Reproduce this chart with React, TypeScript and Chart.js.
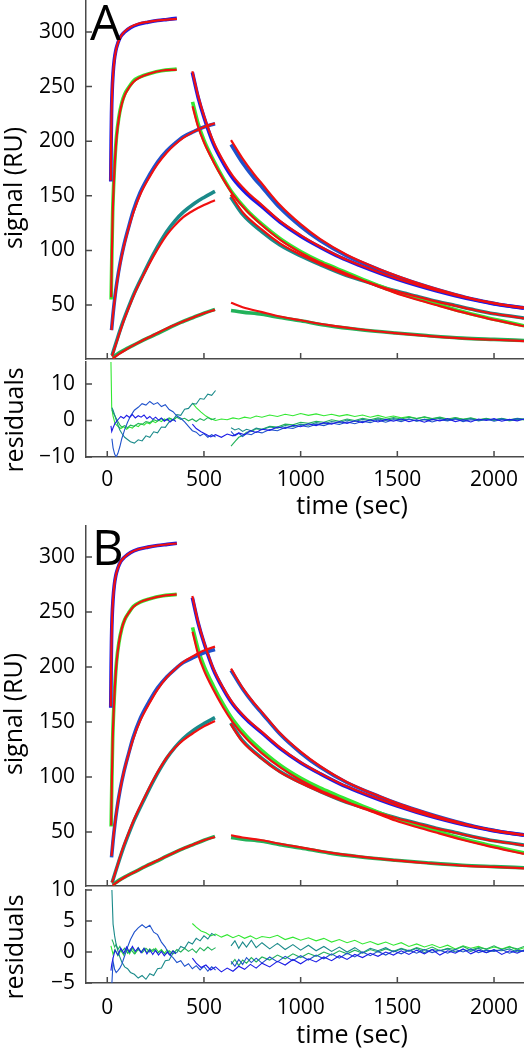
import React, { useEffect, useRef } from 'react';
import { Chart, registerables } from 'chart.js';
Chart.register(...registerables);

const FONT = '"Open Sans", "DejaVu Sans", sans-serif';
const AXIS = '#4a4a4a';
const RED = '#f01010';
const COL1 = '#1c1ce6';
const COL2 = '#33e833';
const COL3 = '#1f52cc';
const COL4 = '#1a8a8a';
const COL5 = '#22b25a';

const X_MIN = -110;
const X_MAX = 2155;
const X_TICKS = [0, 500, 1000, 1500, 2000];
const SIG_TICKS = [50, 100, 150, 200, 250, 300];
const A_RES_TICKS = [-10, 0, 10];
const B_RES_TICKS = [-5, 0, 5, 10];

// ---------- signal: association phase ----------
const C1_AS_T = [18, 20, 22, 25, 30, 36, 44, 55, 70, 90, 120, 160, 210, 260, 310, 360];
const C1_AS_DATA = [163, 200, 225, 245, 262, 274, 283, 290, 296, 300, 304, 307, 309, 310.5, 311.5, 312.5];
const C1_AS_FIT_A = [164, 201, 225, 244, 261, 273, 282.5, 290, 296, 300.5, 304.5, 307.5, 309.3, 310.6, 311.4, 312];
const C1_AS_FIT_B = [164, 200, 224, 245, 262, 274, 283, 290, 296, 300, 304, 307, 309, 310.5, 311.5, 312.3];

const C2_AS_T = [20, 24, 28, 33, 40, 48, 60, 75, 90, 110, 134, 170, 221, 280, 359];
const C2_AS_DATA = [55, 100, 135, 160, 185, 205, 222, 235, 243, 249, 255, 259, 262, 264.5, 266];
const C2_AS_FIT_A = [57, 99, 133, 158, 183, 203, 221, 234, 242, 248.5, 254, 258.5, 262, 264.5, 265.5];
const C2_AS_FIT_B = [56, 100, 134, 159, 184, 204, 222, 235, 243, 249, 254.5, 259, 262, 264.5, 266];

const C3_AS_T = [22, 30, 40, 50, 66, 85, 110, 134, 170, 221, 260, 307, 350, 393, 450, 500, 557];
const C3_AS_DATA = [27, 42, 58, 71, 88, 104, 121, 136, 153, 170, 181, 191, 198, 204, 209, 213, 216];
const C3_AS_FIT_A = [27, 42, 57, 70, 87, 103, 120, 134, 151, 168, 179, 189.5, 197, 203, 209, 213, 216.5];
const C3_AS_FIT_B = [28, 43, 58, 71, 88, 104, 120.5, 134.5, 151, 168, 179.5, 190.5, 198, 204.5, 210.5, 215, 218.5];

const C4_AS_T = [25, 50, 80, 110, 140, 186, 240, 307, 350, 393, 450, 500, 557];
const C4_AS_DATA = [4, 18, 34, 48, 61, 78, 97, 117, 127, 135, 143, 148.5, 154];
const C4_AS_FIT_A = [3, 17, 33, 47, 60, 77, 95, 114, 123, 130.5, 137, 141.5, 146];
const C4_AS_FIT_B = [4, 18, 35, 49, 62, 79, 98, 117.5, 126.5, 133.5, 140.5, 146, 151];

const C5_AS_T = [28, 60, 100, 134, 200, 250, 307, 380, 450, 500, 557];
const C5_AS_DATA = [2, 6, 10, 13, 19, 23, 28, 34, 39, 42.5, 46];
const C5_AS_FIT_A = [1, 5, 9.5, 13, 19, 23.5, 28.5, 34, 39, 42.5, 45.5];
const C5_AS_FIT_B = [1.5, 5.5, 10, 13, 19, 23.5, 28, 34, 39, 42.5, 45.5];

// ---------- signal: dissociation phase ----------
const C1_DI_T = [440, 470, 500, 548, 600, 650, 721, 800, 893, 1000, 1100, 1200, 1300, 1411, 1500, 1600, 1700, 1800, 1900, 2000, 2100, 2155];
const C1_DI_DATA = [263, 240, 222, 198, 180, 166, 152, 140, 126, 113, 103, 94, 86.5, 79, 73.5, 68, 63, 58.5, 54.5, 51, 48.5, 47];
const C1_DI_FIT_A = [264, 241.5, 223.5, 200, 182, 168, 154, 141.5, 127, 114, 103.5, 94.5, 87, 79.5, 74, 68.5, 63.5, 59, 55, 51.5, 48.7, 47.3];
const C1_DI_FIT_B = [264.5, 241, 223, 199, 181, 167, 153, 141, 127, 113.5, 103.5, 94.5, 87, 79.5, 74, 68.3, 63.3, 58.8, 54.8, 51.3, 48.7, 47.2];

const C2_DI_T = [441, 470, 500, 548, 600, 650, 721, 800, 900, 1000, 1100, 1180, 1300, 1400, 1490, 1600, 1700, 1835, 1950, 2050, 2155];
const C2_DI_DATA = [236, 216, 201, 183, 166, 152, 137, 124, 110, 99, 90, 84, 75, 68, 62, 56, 51, 44, 39, 35, 31];
const C2_DI_FIT_A = [232, 213, 199, 181.5, 165, 151, 136, 123, 109, 98, 89, 83, 74, 67, 61, 55, 50, 43.5, 38.5, 34.5, 30.5];
const C2_DI_FIT_B = [232, 211.5, 197, 179.5, 163, 149.5, 134.5, 121.5, 108, 97, 88, 82, 73, 66.5, 60.5, 54.5, 49.5, 43, 38, 34, 30];

const C3_DI_T = [640, 700, 760, 800, 893, 1000, 1100, 1238, 1411, 1500, 1600, 1700, 1800, 1900, 2000, 2100, 2155];
const C3_DI_DATA = [197, 180, 166, 158, 139, 122, 109, 95, 82, 76, 70, 64.5, 59.5, 55, 51.5, 48.5, 47.5];
const C3_DI_FIT_A = [201, 184, 169.5, 161, 141.5, 124, 110.5, 96, 82.5, 76.5, 70.3, 64.8, 59.8, 55.2, 51.7, 48.6, 47.5];
const C3_DI_FIT_B = [198.5, 181, 167, 159, 140, 123, 110, 95.5, 82.2, 76.2, 70.2, 64.6, 59.6, 55, 51.4, 48.4, 47.3];

const C4_DI_T = [638, 700, 800, 893, 1000, 1100, 1238, 1320, 1411, 1500, 1600, 1700, 1800, 1900, 2000, 2100, 2155];
const C4_DI_DATA = [149, 133, 117, 105, 95, 87, 77, 72.5, 67, 62.5, 58, 53.5, 49.5, 45.5, 42, 39.5, 38];
const C4_DI_FIT_A = [151, 135, 119, 106.5, 96, 87.5, 77.3, 72.5, 67, 62.3, 57.8, 53.3, 49.3, 45.4, 42, 39.4, 37.8];
const C4_DI_FIT_B = [148, 132, 116.5, 104.5, 94.5, 86.5, 76.8, 72.2, 66.8, 62.3, 57.8, 53.3, 49.3, 45.4, 41.9, 39.3, 37.8];

const C5_DI_T = [640, 700, 800, 893, 1000, 1145, 1300, 1490, 1650, 1835, 2000, 2155];
const C5_DI_DATA = [45, 43.5, 41.5, 38.5, 35.5, 31, 27.5, 24.3, 22, 19.7, 18.5, 17.5];
const C5_DI_FIT_A = [52, 48, 43.5, 39.5, 36, 31.5, 27.8, 24.3, 21.8, 19.5, 18.2, 17];
const C5_DI_FIT_B = [47, 45, 42.5, 39.3, 36, 31.5, 27.8, 24.2, 21.8, 19.5, 18.2, 17];

// ---------- residual time grids ----------
const RA12_T = [19, 23, 30, 40, 55, 70, 85, 100, 115, 130, 145, 160, 175, 190, 205, 220, 235, 250, 265, 280, 295, 310, 325, 340, 355];
const RA345_T = [24, 30, 38, 46, 55, 65, 75, 90, 105, 120, 140, 160, 180, 200, 220, 240, 260, 280, 300, 320, 340, 360, 380, 400, 420, 440, 460, 480, 500, 520, 540, 560];
const RD12_T = [440, 460, 485, 510, 535, 560, 590, 620, 650, 680, 710, 740, 770, 800, 840, 880, 920, 960, 1000, 1040, 1080, 1120, 1160, 1200, 1240, 1280, 1320, 1360, 1400, 1440, 1480, 1520, 1560, 1600, 1640, 1680, 1720, 1760, 1800, 1840, 1880, 1920, 1960, 2000, 2040, 2080, 2120, 2155];
const RD345_T = [640, 660, 680, 700, 720, 745, 770, 800, 840, 880, 920, 960, 1000, 1040, 1080, 1120, 1160, 1200, 1240, 1280, 1320, 1360, 1400, 1440, 1480, 1520, 1560, 1600, 1640, 1680, 1720, 1760, 1800, 1840, 1880, 1920, 1960, 2000, 2040, 2080, 2120, 2155];

// ---------- residuals panel A ----------
const A_R1_AS = [-1.5, -3, -2, -0.8, 0.2, 1.1, 0.6, 1.4, 0.8, 1.6, 0.7, 1.3, 0.9, 1.5, 0.5, 1.1, 0.3, 0.9, 0.1, 0.7, -0.2, 0.4, -0.4, 0.3, -0.3];
const A_R2_AS = [16, 3.5, 1.2, -0.8, -1.6, -2.2, -1.7, -2.4, -1.8, -2.1, -1.3, -1.7, -0.9, -1.3, -0.6, -0.9, -0.2, -0.6, 0.1, -0.3, 0.4, 0, 0.5, 0.1, 0.6];
const A_R3_AS = [-5, -7.5, -9.2, -10, -9, -7.2, -5, -2.5, -0.5, 1.2, 2.8, 3.6, 4.6, 4.2, 5.2, 4.4, 4.9, 3.8, 4.3, 3, 2.4, 1.2, 0.6, -0.4, -1.6, -2.8, -3.2, -4.2, -3.6, -4.6, -3.9, -4.5];
const A_R4_AS = [3.5, 2.8, 1.5, 0.2, -1.2, -2.6, -3.5, -4.6, -5.2, -5.8, -6.2, -5.3, -5.6, -4.2, -4.6, -3.1, -3.4, -1.8, -1.9, -0.4, 0.2, 1.6, 1.4, 3.1, 3.3, 4.6, 4.5, 6, 5.8, 7.2, 6.9, 8.2];
const A_R5_AS = [3, 2.2, 1.4, 0.6, -0.3, -1.2, -1.8, -1.4, -2, -1.3, -1.6, -0.8, -1.1, -0.3, -0.6, 0.2, -0.2, 0.5, 0, 0.7, 0.2, 0.9, 0.3, 0.6, -0.1, 0.4, -0.3, 0.5, 0, 0.8, 0.2, 0.6];
const A_R1_DI = [-1, -2.2, -3.1, -3.8, -4.5, -3.9, -4.6, -3.7, -4.2, -3.4, -3.9, -2.8, -3.3, -2.4, -2.7, -1.8, -2.2, -1.3, -1.7, -0.9, -1.4, -0.6, -1, -0.3, -0.8, -0.1, -0.6, 0.2, -0.4, 0.3, -0.2, 0.4, -0.3, 0.2, -0.5, 0.3, -0.1, 0.5, -0.3, 0.2, -0.4, 0.4, 0, 0.5, -0.2, 0.3, -0.1, 0.4];
const A_R2_DI = [4.8, 3.5, 2.3, 1.2, 0.5, 0, 0.4, 0.2, 0.7, 0.4, 0.9, 0.6, 1.2, 0.9, 1.5, 1.1, 1.7, 1.3, 1.9, 1.4, 1.8, 1.3, 1.7, 1.2, 1.6, 1.1, 1.5, 0.9, 1.4, 0.8, 1.2, 0.7, 1.1, 0.5, 0.9, 0.4, 0.8, 0.2, 0.7, 0.3, 0.6, 0.1, 0.5, 0, 0.4, -0.1, 0.3, 0.2];
const A_R3_DI = [-3, -4.2, -3.5, -4.4, -3.6, -3.9, -3.1, -3.4, -2.5, -2.8, -1.9, -2.2, -1.4, -1.8, -1, -1.4, -0.7, -1.1, -0.4, -0.9, -0.2, -0.6, 0.1, -0.5, 0.2, -0.3, 0.4, -0.2, 0.3, -0.4, 0.2, -0.1, 0.5, -0.3, 0.2, 0, 0.4, -0.2, 0.3, 0.1, 0.5, 0.2];
const A_R4_DI = [-2, -2.6, -2.2, -3, -2.4, -2.8, -2.1, -2.5, -1.8, -2.1, -1.4, -1.7, -1, -1.3, -0.6, -0.9, -0.3, -0.6, 0.1, -0.3, 0.3, -0.1, 0.4, 0, 0.5, 0.1, 0.4, -0.1, 0.3, 0.2, 0.6, 0, 0.4, 0.1, 0.5, -0.1, 0.3, 0.2, 0.6, 0, 0.4, 0.3];
const A_R5_DI = [-7, -5.8, -4.6, -4.1, -3.2, -3, -2.3, -2.4, -1.6, -1.8, -1, -1.2, -0.5, -0.8, -0.2, -0.5, 0.2, -0.2, 0.4, 0, 0.6, 0.2, 0.7, 0.3, 0.8, 0.4, 0.9, 0.5, 1, 0.5, 0.9, 0.4, 0.8, 0.3, 0.7, 0.2, 0.6, 0.1, 0.5, 0.2, 0.6, 0.4];

// ---------- residuals panel B ----------
const B_R1_AS = [-3, -2, -1, 0.3, -0.5, 0.6, -0.2, 0.8, 0, 0.9, 0.1, 0.7, -0.1, 0.6, -0.3, 0.4, -0.4, 0.3, -0.5, 0.1, -0.6, 0, -0.5, 0.2, -0.3];
const B_R2_AS = [1, 0.5, -0.4, 0.4, -0.6, 0.3, -0.5, 0.5, -0.3, 0.6, -0.2, 0.7, 0, 0.6, -0.1, 0.5, 0.1, 0.6, 0, 0.4, -0.2, 0.3, -0.3, 0.2, -0.1];
const B_R3_AS = [-5, -1.5, -2.8, -3.3, -3, -2.6, -2, -0.6, 0.8, 2, 3.2, 3.9, 4.4, 3.9, 4.3, 3.2, 2.8, 1.6, 0.8, -0.4, -0.9, -1.7, -1.4, -2.3, -1.9, -2.7, -2.2, -2.9, -2.3, -3.1, -2.4, -2.9];
const B_R4_AS = [10, 4.5, 2.6, 1.2, 0.2, -0.8, -1.6, -2.4, -2.7, -3.3, -3.6, -4.2, -3.8, -4.4, -3.5, -3.8, -2.7, -2.6, -1.4, -1.3, -0.2, -0.1, 0.9, 0.6, 1.6, 1.3, 2.2, 1.8, 2.6, 2.1, 3, 2.6];
const B_R5_AS = [2, 1.6, 0.8, 1.2, 0.4, 0.9, 0.1, 0.6, -0.2, 0.5, -0.3, 0.4, -0.1, 0.6, 0, 0.5, -0.2, 0.3, -0.4, 0.2, -0.3, 0.4, 0, 0.6, 0.1, 0.5, -0.1, 0.7, 0.2, 0.8, 0.3, 0.7];
const B_R1_DI = [-1, -1.8, -2.5, -2.1, -2.9, -2.4, -3.2, -2.6, -3.1, -2.3, -2.8, -2, -2.6, -1.8, -2.4, -1.5, -2.1, -1.2, -1.9, -1.1, -1.6, -0.8, -1.4, -0.6, -1.2, -0.4, -0.9, -0.2, -0.7, 0, -0.5, 0.2, -0.4, 0.3, -0.3, 0.4, -0.5, 0.2, -0.2, 0.5, -0.3, 0.3, -0.1, 0.4, -0.4, 0.2, -0.2, 0.3];
const B_R2_DI = [4.6, 4, 3.4, 3.1, 2.6, 2.9, 2.4, 2.8, 2.3, 2.7, 2.2, 2.6, 2.1, 2.5, 2.3, 2.7, 2, 2.4, 1.9, 2.3, 1.8, 2.2, 1.6, 2, 1.5, 1.9, 1.3, 1.7, 1.2, 1.6, 1.1, 1.5, 0.9, 1.3, 0.8, 1.2, 0.7, 1.1, 0.5, 1, 0.6, 0.9, 0.4, 0.8, 0.5, 0.9, 0.3, 0.7];
const B_R3_DI = [-1.5, -2.3, -1.2, -2, -0.9, -1.7, -1, -1.8, -0.8, -1.6, -0.7, -1.4, -0.6, -1.3, -0.5, -1.1, -0.3, -1, -0.2, -0.8, 0, -0.6, 0.1, -0.5, 0.2, -0.3, 0.3, -0.2, 0.4, -0.1, 0.3, -0.2, 0.4, 0, 0.5, -0.1, 0.3, 0.1, 0.4, -0.2, 0.3, 0.1];
const B_R4_DI = [1, 1.8, 0.6, 1.6, 0.8, 1.9, 0.7, 1.5, 0.5, 1.4, 0.4, 1.2, 0.3, 1.1, 0.2, 0.9, 0.1, 0.8, 0, 0.7, -0.1, 0.6, 0.2, 0.7, 0, 0.5, 0.1, 0.6, -0.1, 0.4, 0.2, 0.5, 0, 0.4, 0.1, 0.6, -0.1, 0.3, 0.2, 0.5, 0, 0.3];
const B_R5_DI = [-2, -1.2, -2.2, -1.3, -1.8, -0.9, -1.6, -0.8, -1.3, -0.5, -1.1, -0.3, -0.9, -0.2, -0.7, 0, -0.5, 0.2, -0.3, 0.3, -0.2, 0.4, 0, 0.5, 0.1, 0.6, 0.2, 0.7, 0.3, 0.8, 0.2, 0.6, 0.4, 0.9, 0.3, 0.7, 0.5, 1, 0.4, 0.8, 0.5, 0.9];

// ---------- helpers ----------
const pts = (t: number[], v: number[]) => t.map((x, i) => ({ x, y: v[i] }));

function dataLine(t: number[], v: number[], color: string) {
  return {
    data: pts(t, v), borderColor: color, borderWidth: 3.6, pointRadius: 0,
    tension: 0.4, cubicInterpolationMode: 'monotone', order: 2,
  };
}
function fitLine(t: number[], v: number[]) {
  return {
    data: pts(t, v), borderColor: RED, borderWidth: 2.2, pointRadius: 0,
    tension: 0.4, cubicInterpolationMode: 'monotone', order: 1,
  };
}
function resLine(t: number[], v: number[], color: string) {
  return { data: pts(t, v), borderColor: color, borderWidth: 1.1, pointRadius: 0, tension: 0, order: 1 };
}

type TextSpec = { text: string; x: number; y: number; size: number; weight?: string; rotate?: boolean; align?: CanvasTextAlign };

function decor(yTicks: number[], texts: TextSpec[]) {
  return {
    id: 'decor',
    afterDraw(chart: any) {
      const ctx = chart.ctx as CanvasRenderingContext2D;
      const { left, bottom } = chart.chartArea;
      const xs = chart.scales.x;
      const ys = chart.scales.y;
      ctx.save();
      ctx.strokeStyle = AXIS;
      ctx.lineWidth = 1.5;
      ctx.beginPath();
      for (const v of X_TICKS) {
        const px = xs.getPixelForValue(v);
        ctx.moveTo(px, bottom);
        ctx.lineTo(px, bottom - 6);
      }
      for (const v of yTicks) {
        const py = ys.getPixelForValue(v);
        ctx.moveTo(left, py);
        ctx.lineTo(left + 6, py);
      }
      ctx.stroke();
      ctx.fillStyle = '#000';
      for (const t of texts) {
        ctx.save();
        ctx.font = `${t.weight || 'normal'} ${t.size}px ${FONT}`;
        ctx.textBaseline = 'alphabetic';
        ctx.textAlign = t.align || 'center';
        ctx.translate(t.x, t.y);
        if (t.rotate) ctx.rotate(-Math.PI / 2);
        ctx.fillText(t.text, 0, 0);
        ctx.restore();
      }
      ctx.restore();
    },
  };
}

const fmt = (v: any) => String(v).replace('-', '\u2212');

function xScale(showLabels: boolean, padding: number, axisHeight: number) {
  return {
    type: 'linear', min: X_MIN, max: X_MAX,
    grid: { display: false, drawTicks: false },
    border: { display: true, color: AXIS, width: 1.5 },
    ticks: {
      display: showLabels, padding, color: '#000', font: { family: FONT, size: 21 },
      autoSkip: false, maxRotation: 0, callback: fmt,
    },
    afterBuildTicks: (s: any) => { s.ticks = X_TICKS.map((v) => ({ value: v })); },
    afterFit: (s: any) => { s.height = axisHeight; s.paddingLeft = 0; s.paddingRight = 0; },
  };
}

function yScale(min: number, max: number, ticks: number[]) {
  return {
    type: 'linear', min, max,
    grid: { display: false, drawTicks: false },
    border: { display: true, color: AXIS, width: 1.5 },
    ticks: { padding: 11, color: '#000', font: { family: FONT, size: 21 }, callback: fmt },
    afterBuildTicks: (s: any) => { s.ticks = ticks.map((v) => ({ value: v })); },
    afterFit: (s: any) => { s.width = 86; s.paddingTop = 0; s.paddingBottom = 0; },
  };
}

function baseOptions(padTop: number, x: any, y: any) {
  return {
    responsive: false, animation: false,
    layout: { padding: { top: padTop, left: 0, right: 0, bottom: 0 } },
    plugins: { legend: { display: false }, tooltip: { enabled: false } },
    scales: { x, y },
  };
}

function signalDatasets(fitSet: 'A' | 'B') {
  const A = fitSet === 'A';
  return [
    dataLine(C1_AS_T, C1_AS_DATA, COL1), fitLine(C1_AS_T, A ? C1_AS_FIT_A : C1_AS_FIT_B),
    dataLine(C2_AS_T, C2_AS_DATA, COL2), fitLine(C2_AS_T, A ? C2_AS_FIT_A : C2_AS_FIT_B),
    dataLine(C3_AS_T, C3_AS_DATA, COL3), fitLine(C3_AS_T, A ? C3_AS_FIT_A : C3_AS_FIT_B),
    dataLine(C4_AS_T, C4_AS_DATA, COL4), fitLine(C4_AS_T, A ? C4_AS_FIT_A : C4_AS_FIT_B),
    dataLine(C5_AS_T, C5_AS_DATA, COL5), fitLine(C5_AS_T, A ? C5_AS_FIT_A : C5_AS_FIT_B),
    dataLine(C1_DI_T, C1_DI_DATA, COL1), fitLine(C1_DI_T, A ? C1_DI_FIT_A : C1_DI_FIT_B),
    dataLine(C2_DI_T, C2_DI_DATA, COL2), fitLine(C2_DI_T, A ? C2_DI_FIT_A : C2_DI_FIT_B),
    dataLine(C3_DI_T, C3_DI_DATA, COL3), fitLine(C3_DI_T, A ? C3_DI_FIT_A : C3_DI_FIT_B),
    dataLine(C4_DI_T, C4_DI_DATA, COL4), fitLine(C4_DI_T, A ? C4_DI_FIT_A : C4_DI_FIT_B),
    dataLine(C5_DI_T, C5_DI_DATA, COL5), fitLine(C5_DI_T, A ? C5_DI_FIT_A : C5_DI_FIT_B),
  ];
}

function residualDatasets(r: number[][]) {
  return [
    resLine(RA12_T, r[0], COL1), resLine(RD12_T, r[5], COL1),
    resLine(RA345_T, r[2], COL3), resLine(RD345_T, r[7], COL3),
    resLine(RA345_T, r[3], COL4), resLine(RD345_T, r[8], COL4),
    resLine(RA345_T, r[4], COL5), resLine(RD345_T, r[9], COL5),
    resLine(RA12_T, r[1], COL2), resLine(RD12_T, r[6], COL2),
  ];
}

const PANELS = [
  {
    top: 0, height: 362,
    make: () => ({
      type: 'line',
      data: { datasets: signalDatasets('A') },
      options: baseOptions(0, xScale(false, 0, 3), yScale(0.55, 329.3, SIG_TICKS)),
      plugins: [decor(SIG_TICKS, [
        { text: 'A', x: 90, y: 40, size: 49, align: 'left' },
        { text: 'signal (RU)', x: 22, y: 188, size: 25, rotate: true },
      ])],
    }),
  },
  {
    top: 360, height: 170,
    make: () => ({
      type: 'line',
      data: { datasets: residualDatasets([A_R1_AS, A_R2_AS, A_R3_AS, A_R4_AS, A_R5_AS, A_R1_DI, A_R2_DI, A_R3_DI, A_R4_DI, A_R5_DI]) },
      options: baseOptions(2, xScale(true, 10, 73), yScale(-10, 16, A_RES_TICKS)),
      plugins: [decor(A_RES_TICKS, [
        { text: 'residuals', x: 23, y: 60, size: 25, rotate: true },
        { text: 'time (sec)', x: 352, y: 154, size: 25 },
      ])],
    }),
  },
  {
    top: 521, height: 367,
    make: () => ({
      type: 'line',
      data: { datasets: signalDatasets('B') },
      options: baseOptions(5, xScale(false, 0, 2), yScale(0.9, 328.2, SIG_TICKS)),
      plugins: [decor(SIG_TICKS, [
        { text: 'B', x: 92, y: 44, size: 49, align: 'left' },
        { text: 'signal (RU)', x: 22, y: 193, size: 25, rotate: true },
      ])],
    }),
  },
  {
    top: 870, height: 179,
    make: () => ({
      type: 'line',
      data: { datasets: residualDatasets([B_R1_AS, B_R2_AS, B_R3_AS, B_R4_AS, B_R5_AS, B_R1_DI, B_R2_DI, B_R3_DI, B_R4_DI, B_R5_DI]) },
      options: baseOptions(20, xScale(true, 12, 66), yScale(-5, 10, B_RES_TICKS)),
      plugins: [decor(B_RES_TICKS, [
        { text: 'residuals', x: 23, y: 77, size: 25, rotate: true },
        { text: 'time (sec)', x: 352, y: 173, size: 25 },
      ])],
    }),
  },
];

function Panel({ top, height, make }: { top: number; height: number; make: () => any }) {
  const ref = useRef<HTMLCanvasElement>(null);
  useEffect(() => {
    const chart = new Chart(ref.current as HTMLCanvasElement, make());
    return () => chart.destroy();
  }, []);
  return (
    <canvas
      ref={ref}
      width={524}
      height={height}
      style={{ position: 'absolute', left: 0, top, width: 524, height, display: 'block' }}
    />
  );
}

export default function App() {
  return (
    <div style={{ position: 'absolute', left: 0, top: 0, width: 524, height: 1049, background: '#fff', overflow: 'hidden' }}>
      {PANELS.map((p, i) => (
        <Panel key={i} top={p.top} height={p.height} make={p.make} />
      ))}
    </div>
  );
}
